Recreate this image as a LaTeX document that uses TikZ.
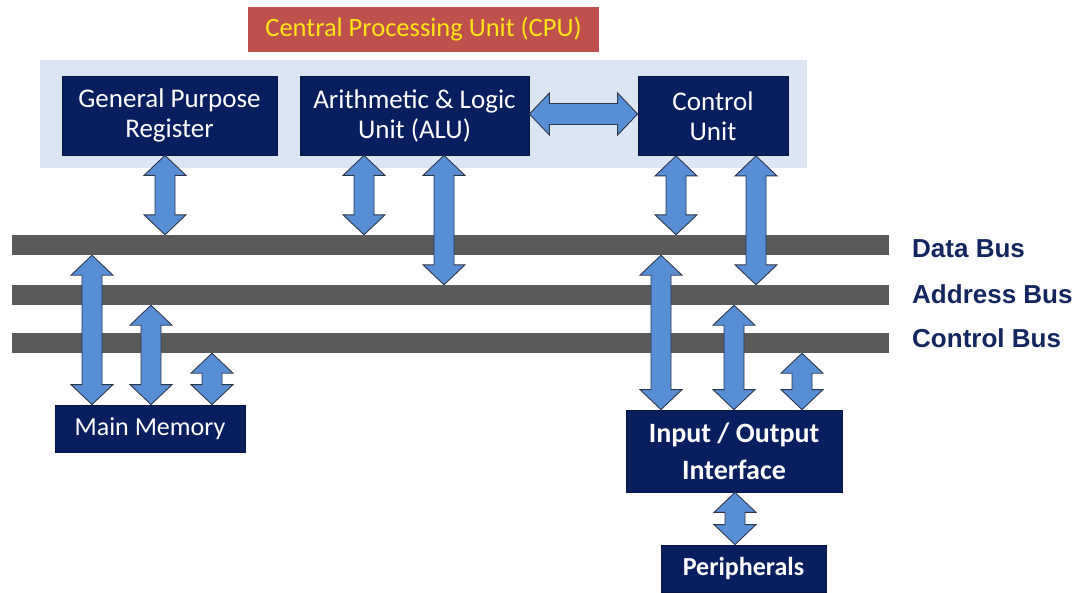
\documentclass[tikz,border=0pt]{standalone}
\usepackage{fontspec}
\setmainfont{Carlito}
\newfontfamily\busfont{Liberation Sans}
\usetikzlibrary{calc}
\definecolor{navy}{RGB}{8,30,94}
\definecolor{cpubg}{RGB}{220,230,242}
\definecolor{titlered}{RGB}{192,80,77}
\definecolor{titleyellow}{RGB}{255,230,20}
\definecolor{busgray}{RGB}{90,90,90}
\definecolor{arrowblue}{RGB}{88,142,213}
\definecolor{arrowedge}{RGB}{45,55,75}
\definecolor{buslabel}{RGB}{20,38,95}
\newcommand{\vdarrow}[3]{%
  \path[blockarrow] let \p1=#1, \p2=#2, \p3=#3 in
  (\x1,\y2) -- (\x1+21pt,\y2-20pt) -- (\x1+10pt,\y2-20pt) -- (\x1+10pt,\y3+20pt)
  -- (\x1+21pt,\y3+20pt) -- (\x1,\y3) -- (\x1-21pt,\y3+20pt) -- (\x1-10pt,\y3+20pt)
  -- (\x1-10pt,\y2-20pt) -- (\x1-21pt,\y2-20pt) -- cycle;}
\newcommand{\hdarrow}[2]{%
  \path[blockarrow] let \p1=#1, \p2=#2 in
  (\x1,\y1) -- (\x1+20pt,\y1+21pt) -- (\x1+20pt,\y1+10.5pt) -- (\x2-20pt,\y1+10.5pt)
  -- (\x2-20pt,\y1+21pt) -- (\x2,\y1) -- (\x2-20pt,\y1-21pt) -- (\x2-20pt,\y1-10.5pt)
  -- (\x1+20pt,\y1-10.5pt) -- (\x1+20pt,\y1-21pt) -- cycle;}
\begin{document}
\begin{tikzpicture}[x=1pt,y=-1pt,
  unitbox/.style={fill=navy, draw=navy!70!black, line width=0.8pt, text=white,
    align=center, inner sep=0pt, font=\fontsize{27}{30}\selectfont},
  busbar/.style={fill=busgray, draw=none, inner sep=0pt, minimum width=877pt, minimum height=20pt},
  buslbl/.style={anchor=base west, inner sep=0pt, text=buslabel, font=\busfont\bfseries\fontsize{26}{30}\selectfont},
  blockarrow/.style={fill=arrowblue, draw=arrowedge, line width=0.9pt, line join=miter}]
\useasboundingbox (0,0) rectangle (1089,592);
\fill[white] (0,0) rectangle (1089,592);
% CPU
\node[fill=cpubg, inner sep=0pt, minimum width=767pt, minimum height=108pt] (cpu) at (423.5,114) {};
\node[fill=titlered, text=titleyellow, inner sep=0pt, minimum width=351pt, minimum height=45pt,
  font=\fontsize{26.5}{30}\selectfont] (title) at (423.5,29.5) {Central Processing Unit (CPU)};
\node[unitbox, minimum width=215pt, minimum height=79pt] (gpr) at (169.5,115.5) {General Purpose\\Register};
\node[unitbox, minimum width=229pt, minimum height=79pt] (alu) at (414.5,115.5) {Arithmetic \& Logic\\Unit (ALU)};
\node[unitbox, minimum width=150pt, minimum height=79pt] (cu) at (713,116) {Control\\Unit};
% buses
\node[busbar] (data) at (450.5,245) {};
\node[busbar] (addr) at (450.5,295) {};
\node[busbar] (ctrl) at (450.5,343) {};
\node[buslbl] (ldata) at (912,257) {Data Bus};
\node[buslbl] (laddr) at (912,303) {Address Bus};
\node[buslbl] (lctrl) at (912,347) {Control Bus};
% lower units
\node[unitbox, minimum width=190pt, minimum height=47pt, font=\fontsize{26}{30}\selectfont] (mem) at (150,428.5) {Main Memory};
\node[unitbox, minimum width=216pt, minimum height=82pt, font=\bfseries\fontsize{28}{37}\selectfont] (io) at (734,451) {Input / Output\\Interface};
\node[unitbox, minimum width=165pt, minimum height=47pt, font=\bfseries\fontsize{26}{30}\selectfont] (per) at (743.5,568.5) {Peripherals};
% arrows
\hdarrow{($(alu.east)+(0,-1.5)$)}{(cu.west)}
\vdarrow{($(gpr.south)+(-4.5,0)$)}{(gpr.south)}{(data.north)}
\vdarrow{($(alu.south)+(-50.5,0)$)}{(alu.south)}{(data.north)}
\vdarrow{($(alu.south)+(29.5,0)$)}{(alu.south)}{(addr.north)}
\vdarrow{($(cu.south)+(-37,0)$)}{(cu.south)}{(data.north)}
\vdarrow{($(cu.south)+(43,0)$)}{(cu.south)}{(addr.north)}
\vdarrow{($(mem.north)+(-58,0)$)}{(data.south)}{(mem.north)}
\vdarrow{($(mem.north)+(1,0)$)}{(addr.south)}{(mem.north)}
\vdarrow{($(mem.north)+(62,0)$)}{(ctrl.south)}{(mem.north)}
\vdarrow{($(io.north)+(-73,0)$)}{(data.south)}{(io.north)}
\vdarrow{($(io.north)+(0,0)$)}{(addr.south)}{(io.north)}
\vdarrow{($(io.north)+(68,0)$)}{(ctrl.south)}{(io.north)}
\vdarrow{($(io.south)+(1,0)$)}{(io.south)}{(per.north)}
\end{tikzpicture}
\end{document}
